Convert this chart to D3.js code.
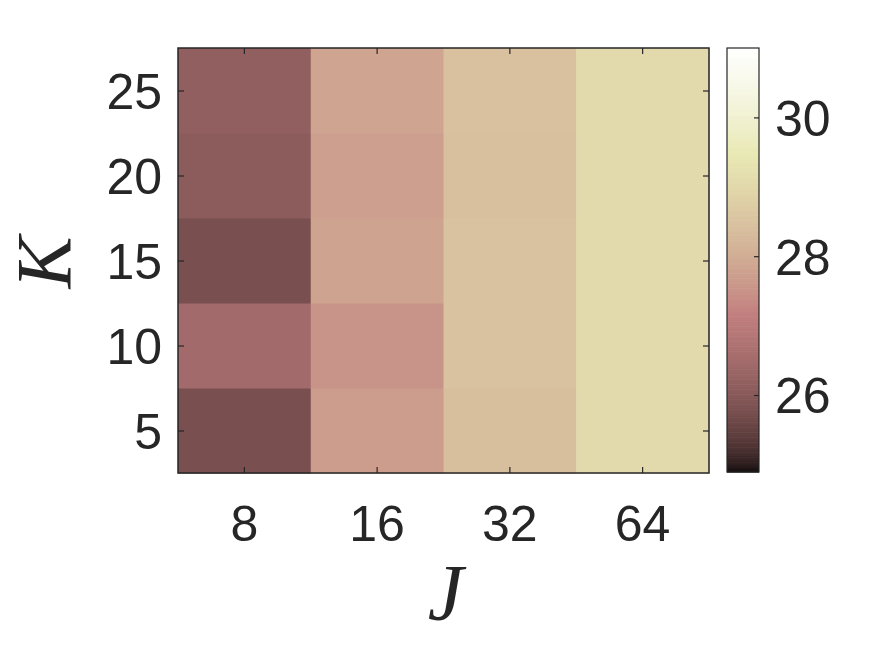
<!DOCTYPE html>
<html>
<head>
<meta charset="utf-8">
<script src="https://cdn.jsdelivr.net/npm/d3@7"></script>
<style>
  body { margin: 0; background: #fff; }
  svg text { font-family: "Liberation Sans", Arial, sans-serif; fill: #262626; }
</style>
</head>
<body>
<svg id="chart"></svg>
<script>
// data
const jValues = ['8', '16', '32', '64'];
const kValues = [5, 10, 15, 20, 25];
// rows follow kValues, columns follow jValues
const cells8  = [25.77, 26.47, 25.77, 26.08, 26.16];
const cells16 = [27.69, 27.50, 27.81, 27.73, 27.85];
const cells32 = [28.37, 28.48, 28.48, 28.41, 28.45];
const cells64 = [29.06, 29.06, 29.06, 29.06, 29.06];
const colorLimits = [24.89, 31.0];
const colorTicks = [26, 28, 30];

let width = 875;
let height = 656;
let margin = {left: 178, top: 48, right: 166, bottom: 183};

let svg = d3.select('#chart').attr('width', width).attr('height', height);

// matlab style pink colormap
let pink = t => {
    let hr = Math.min(1, t / 0.375);
    let hg = Math.max(0, Math.min(1, (t - 0.375) / 0.375));
    let hb = Math.max(0, (t - 0.75) / 0.25);
    let f = h => Math.round(255 * Math.sqrt((2 * t + h) / 3));
    return 'rgb(' + f(hr) + ',' + f(hg) + ',' + f(hb) + ')';
}
let color = d3.scaleSequential(pink).domain(colorLimits);

let xScale = d3.scaleBand()
    .domain(jValues)
    .range([margin.left, width - margin.right]);
let yScale = d3.scaleLinear()
    .domain([2.5, 27.5])
    .range([height - margin.bottom, margin.top]);

//build cell table
let columns = [cells8, cells16, cells32, cells64];
let cells = [];
jValues.forEach((j, ci) => {
    kValues.forEach((k, ri) => {
        cells.push({j: j, k: k, v: columns[ci][ri]});
    });
});

svg.append('g').selectAll('rect')
    .data(cells)
    .enter()
    .append('rect')
    .attr('x', d => xScale(d.j))
    .attr('y', d => yScale(d.k + 2.5))
    .attr('width', xScale.bandwidth() + 0.5)
    .attr('height', yScale(d3.min(kValues) - 2.5) - yScale(d3.min(kValues) + 2.5) + 0.5)
    .attr('fill', d => color(d.v));

// axes, ticks inward on all sides
let tickLen = 6;
let fontSize = '50px';
let x0 = margin.left, x1 = width - margin.right;
let y0 = margin.top, y1 = height - margin.bottom;

let gX = svg.append('g')
    .attr('transform', 'translate(0,' + y1 + ')')
    .call(d3.axisBottom(xScale).tickSize(-tickLen).tickPadding(32));
let gXTop = svg.append('g')
    .attr('transform', 'translate(0,' + y0 + ')')
    .call(d3.axisTop(xScale).tickSize(-tickLen).tickFormat(''));
let gY = svg.append('g')
    .attr('transform', 'translate(' + x0 + ',0)')
    .call(d3.axisLeft(yScale).tickValues(kValues).tickSize(-tickLen).tickPadding(16));
let gYRight = svg.append('g')
    .attr('transform', 'translate(' + x1 + ',0)')
    .call(d3.axisRight(yScale).tickValues(kValues).tickSize(-tickLen).tickFormat(''));

[gX, gXTop, gY, gYRight].forEach(g => {
    g.select('.domain').remove();
    g.selectAll('line').attr('stroke', '#262626').attr('stroke-width', 1.2);
    g.selectAll('text').style('font-size', fontSize).attr('fill', '#262626');
});
gX.selectAll('text').attr('dy', '0.71em');
gY.selectAll('text').attr('dy', '0.36em');

svg.append('rect')
    .attr('x', x0).attr('y', y0)
    .attr('width', x1 - x0).attr('height', y1 - y0)
    .attr('fill', 'none').attr('stroke', '#262626').attr('stroke-width', 1.5);

// axis titles
svg.append('text')
    .attr('x', (x0 + x1) / 2 + 2)
    .attr('y', 620)
    .attr('text-anchor', 'middle')
    .style('font-family', '"Liberation Serif", "DejaVu Serif", serif')
    .style('font-style', 'italic')
    .style('font-size', '80px')
    .attr('fill', '#1a1a1a')
    .text('J');

svg.append('text')
    .attr('transform', 'translate(70,' + ((y0 + y1) / 2 + 2) + ') rotate(-90)')
    .attr('text-anchor', 'middle')
    .style('font-family', '"Liberation Serif", "DejaVu Serif", serif')
    .style('font-style', 'italic')
    .style('font-size', '78px')
    .attr('fill', '#1a1a1a')
    .text('K');

// colorbar
let cbX = 727, cbW = 32;
let cScale = d3.scaleLinear().domain(colorLimits).range([y1 - 1, y0]);
let steps = d3.range(256);
svg.append('g').selectAll('rect')
    .data(steps)
    .enter()
    .append('rect')
    .attr('x', cbX)
    .attr('y', i => cScale(colorLimits[0] + (i + 1) / 256 * (colorLimits[1] - colorLimits[0])))
    .attr('width', cbW)
    .attr('height', (cScale.range()[0] - cScale.range()[1]) / 256 + 0.6)
    .attr('fill', i => pink((i + 0.5) / 256));

let gC = svg.append('g')
    .attr('transform', 'translate(' + (cbX + cbW) + ',0)')
    .call(d3.axisRight(cScale).tickValues(colorTicks).tickFormat(d3.format('d')).tickSize(-5).tickPadding(16));
gC.select('.domain').remove();
gC.selectAll('line').attr('stroke', '#262626').attr('stroke-width', 1.2);
gC.selectAll('text').style('font-size', fontSize).attr('fill', '#262626').attr('dy', '0.36em');

svg.append('rect')
    .attr('x', cbX).attr('y', y0)
    .attr('width', cbW).attr('height', y1 - 1 - y0)
    .attr('fill', 'none').attr('stroke', '#262626').attr('stroke-width', 1.2);
</script>
</body>
</html>
